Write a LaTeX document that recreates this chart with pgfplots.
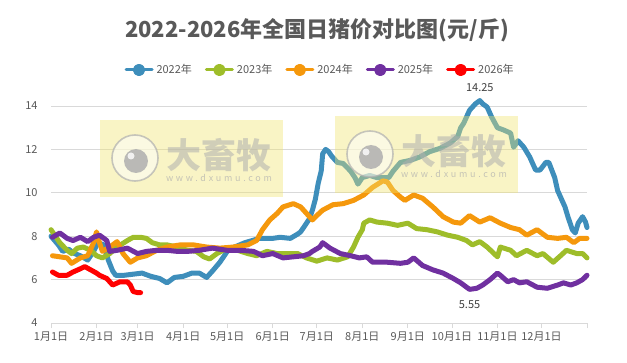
\documentclass[border=0pt]{standalone}
\usepackage{pgfplots}
\pgfplotsset{compat=1.18}
\usepackage{fontspec}
\setmainfont{Noto Sans CJK SC}
\definecolor{c22}{RGB}{62,142,187}
\definecolor{c23}{RGB}{158,189,42}
\definecolor{c24}{RGB}{245,152,12}
\definecolor{c25}{RGB}{112,48,160}
\definecolor{c26}{RGB}{255,0,0}
\definecolor{tickgray}{RGB}{89,89,89}
\definecolor{gridgray}{RGB}{217,217,217}
\definecolor{wmyel}{RGB}{240,228,110}
\definecolor{wmgray}{RGB}{175,175,175}
\begin{document}
\begin{tikzpicture}[x=1pt,y=1pt]
\path[use as bounding box] (0,0) rectangle (627,362);
\node[font=\fontsize{22}{26}\selectfont\bfseries, text=tickgray] at (317,332) {2022-2026年全国日猪价对比图(元/斤)};
\begin{axis}[
  at={(51pt,39pt)}, anchor=south west,
  scale only axis, width=536pt, height=217pt,
  xmin=0, xmax=365, ymin=4, ymax=14, clip=false,
  axis x line*=bottom, axis y line*=left,
  y axis line style={draw=none},
  x axis line style={draw=gridgray, line width=0.8pt, -},
  xtick={0,31,59,90,120,151,181,212,243,273,304,334,365},
  xticklabels={1月1日,2月1日,3月1日,4月1日,5月1日,6月1日,7月1日,8月1日,9月1日,10月1日,11月1日,12月1日,{}},
  ytick={4,6,8,10,12,14},
  tick align=outside,
  major tick length=5pt,
  xtick style={draw=gridgray, line width=0.8pt},
  ytick style={draw=none},
  ymajorgrids, grid style={draw=gridgray, line width=0.8pt},
  ticklabel style={font=\fontsize{11}{13}\selectfont, text=tickgray},
  yticklabel style={xshift=-5pt},
  /pgf/number format/assume math mode=true,
  every axis plot/.append style={line width=5pt, line join=round, line cap=round, mark=none},
  legend columns=5,
  legend style={at={(0.502,1.166)}, anchor=center, draw=none, fill=none,
    font=\fontsize{11}{13}\selectfont, text=tickgray,
    /tikz/every even column/.append style={column sep=11pt},
    /tikz/every odd column/.append style={column sep=1pt}},
  legend image code/.code={\draw[#1, line width=3pt] (0pt,0pt) -- (26pt,0pt); \fill[#1] (13pt,0pt) circle (3.6pt);},
]
\addplot[c22] coordinates {
(0,8.0)(5,7.6)(8,7.3)(12,7.4)(16,7.2)(20,7.1)(25,6.9)(29,7.3)(32,7.7)(36,7.6)(39,6.9)(42,6.4)(44,6.2)(50,6.2)(56,6.25)(62,6.3)(68,6.15)(74,6.05)(79,5.85)(84,6.1)(90,6.15)(96,6.3)(101,6.3)(106,6.1)(110,6.4)(115,6.8)(120,7.3)(125,7.5)(132,7.7)(142,7.9)(151,7.9)(156,7.95)(163,7.9)(168,8.1)(170,8.2)(173,8.5)(176,8.8)(178,9.2)(180,9.7)(182,10.45)(184,11.0)(185,11.8)(187,12.0)(189,11.9)(191,11.7)(195,11.4)(199,11.35)(204,11.0)(207,10.7)(209,10.4)(212,10.7)(217,10.8)(222,10.7)(226,10.7)(230,10.7)(233,11.0)(238,11.4)(245,11.5)(251,11.65)(258,11.9)(265,12.05)(272,12.3)(277,12.6)(279,13.0)(281,13.2)(285,13.8)(289,14.1)(292,14.25)(294,14.1)(297,13.95)(300,13.5)(304,13.0)(308,12.9)(313,12.75)(315,12.1)(318,12.4)(322,12.1)(326,11.65)(330,11.05)(333,11.05)(337,11.4)(339,11.4)(341,11.05)(343,10.7)(345,10.1)(348,9.65)(350,9.35)(352,8.9)(355,8.3)(357,8.15)(359,8.6)(362,8.9)(364,8.65)(365,8.4)
};
\addlegendentry{2022年}
\addplot[c23] coordinates {
(0,8.3)(6,7.7)(11,7.35)(14,7.2)(18,7.45)(22,7.5)(27,7.35)(31,7.1)(35,7.0)(40,7.2)(45,7.5)(52,7.8)(56,7.95)(61,7.95)(65,7.9)(69,7.7)(74,7.6)(79,7.6)(86,7.5)(93,7.35)(99,7.3)(104,7.05)(108,6.95)(113,7.2)(120,7.45)(127,7.35)(134,7.2)(140,7.1)(147,7.3)(154,7.2)(161,7.2)(168,7.2)(174,7.0)(181,6.85)(188,7.0)(195,6.9)(202,7.05)(206,7.5)(209,7.95)(212,8.3)(213,8.6)(217,8.75)(222,8.65)(229,8.6)(236,8.5)(243,8.6)(249,8.35)(256,8.3)(263,8.2)(270,8.05)(277,7.95)(283,7.8)(287,7.6)(292,7.75)(297,7.5)(304,7.05)(306,7.5)(313,7.35)(317,7.1)(324,7.35)(331,7.1)(335,7.2)(342,6.8)(347,7.1)(351,7.35)(358,7.2)(362,7.2)(365,7.0)
};
\addlegendentry{2023年}
\addplot[c24] coordinates {
(1,7.1)(11,7.0)(14,6.75)(20,7.0)(25,7.1)(29,7.7)(31,8.2)(33,7.7)(35,7.3)(40,7.5)(45,7.75)(49,7.2)(54,6.8)(59,7.0)(65,7.1)(72,7.35)(79,7.5)(88,7.6)(97,7.6)(106,7.5)(115,7.45)(124,7.5)(134,7.6)(140,7.8)(144,8.3)(149,8.75)(154,9.05)(158,9.35)(165,9.5)(170,9.35)(174,9.05)(178,8.75)(181,8.95)(185,9.2)(192,9.45)(199,9.5)(206,9.65)(213,9.9)(219,10.25)(226,10.55)(229,10.5)(233,10.1)(238,9.8)(241,9.65)(247,9.9)(253,9.75)(260,9.35)(267,8.9)(274,8.65)(279,8.6)(285,8.95)(292,8.65)(299,8.85)(306,8.6)(313,8.4)(319,8.3)(324,8.05)(331,8.3)(338,7.95)(345,7.9)(351,7.95)(356,7.7)(360,7.9)(365,7.9)
};
\addlegendentry{2024年}
\addplot[c25] coordinates {
(1,7.95)(6,8.15)(11,7.9)(15,7.8)(20,7.95)(25,7.75)(29,7.95)(33,8.05)(38,7.8)(40,7.3)(45,7.35)(52,7.45)(59,7.2)(65,7.3)(72,7.35)(79,7.35)(86,7.3)(93,7.3)(101,7.35)(110,7.45)(120,7.35)(129,7.35)(138,7.3)(144,7.1)(151,7.2)(158,7.0)(165,7.05)(172,7.1)(176,7.2)(178,7.3)(183,7.5)(185,7.7)(190,7.45)(197,7.2)(204,7.1)(210,7.0)(215,7.05)(219,6.8)(229,6.8)(238,6.75)(243,6.8)(247,7.0)(253,6.65)(260,6.45)(267,6.3)(274,6.05)(279,5.85)(285,5.55)(290,5.6)(294,5.75)(299,6.0)(304,6.3)(306,6.2)(311,5.9)(315,6.0)(319,5.85)(324,5.9)(331,5.65)(338,5.6)(345,5.75)(349,5.85)(354,5.75)(358,5.85)(362,6.0)(365,6.2)
};
\addlegendentry{2025年}
\addplot[c26] coordinates {
(1,6.35)(5,6.2)(11,6.2)(15,6.35)(20,6.5)(23,6.6)(27,6.45)(31,6.3)(33,6.2)(38,6.05)(42,5.75)(47,5.9)(52,5.9)(54,5.75)(56,5.45)(59,5.4)(61,5.4)
};
\addlegendentry{2026年}
\node[font=\fontsize{11}{13}\selectfont, text=black!75, above] at (axis cs:292,14.25) [yshift=5pt] {14.25};
\node[font=\fontsize{11}{13}\selectfont, text=black!75, below] at (axis cs:285,5.55) [yshift=-8pt] {5.55};
\end{axis}
% watermarks
\foreach \dx/\dy in {0/0, 235/4}{
\begin{scope}[shift={(\dx,\dy)}]
\fill[wmyel, opacity=0.4] (100,165) rectangle (283,242);
\fill[white, opacity=0.5] (135,204) circle (23);
\draw[wmgray, opacity=0.7, line width=1.6pt] (135,204) circle (23);
\fill[wmgray, opacity=0.85] (136,201) circle (12);
\fill[white, opacity=0.8] (131,206) circle (3.5);
\node[font=\fontsize{35}{40}\selectfont\bfseries, text=wmgray, opacity=0.55] at (219,207) {大畜牧};
\node[font=\fontsize{9}{10}\selectfont\addfontfeature{LetterSpace=30}, text=wmgray, opacity=0.7] at (219,184) {www.dxumu.com};
\end{scope}}
\end{tikzpicture}
\end{document}
